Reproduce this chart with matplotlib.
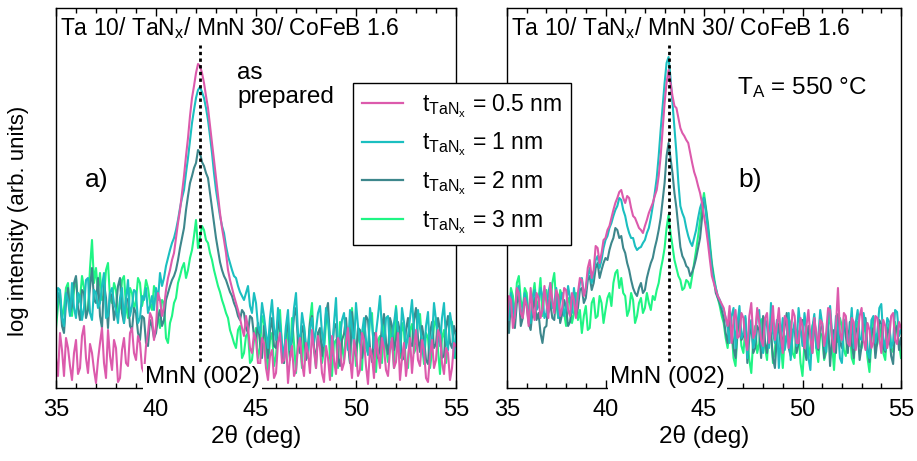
import numpy as np
import matplotlib
matplotlib.use("Agg")
import matplotlib.pyplot as plt
from matplotlib.ticker import MultipleLocator
from matplotlib.lines import Line2D

plt.rcParams["font.family"] = ["Liberation Sans", "DejaVu Sans"]
plt.rcParams["mathtext.fontset"] = "custom"
plt.rcParams["mathtext.rm"] = "Liberation Sans"
plt.rcParams["mathtext.it"] = "Liberation Sans:italic"

# scan angles, 0.1 deg steps (one row below = one degree)
two_theta = np.round(np.linspace(35, 55, 201), 1)

thicknesses = ["0.5", "1", "2", "3"]
colors = ["#dc5aac", "#1bbfc0", "#3d878c", "#1ff584"]

# a) as prepared, log intensity (arb. units)
a_05 = [30, 12, 55, 38, 12, 50, 40, 22, 8, 35,
        48, 14, 20, 52, 62, 30, 15, 44, 35, 18,
        5, 28, 45, 60, 25, 10, 58, 32, 18, 48,
        40, 6, 10, 38, 50, 25, 22, 55, 60, 35,
        28, 52, 45, 20, 15, 42, 55, 75, 70, 48,
        62, 95, 88, 72, 80, 98, 110, 118, 128, 135,
        150, 165, 178, 195, 212, 232, 250, 272, 290, 302,
        315, 324, 322, 315, 305, 292, 280, 262, 245, 228,
        210, 192, 175, 160, 148, 135, 118, 108, 100, 92,
        85, 78, 70, 60, 52, 72, 60, 40, 35, 55,
        48, 25, 22, 50, 45, 20, 8, 32, 38, 10,
        15, 45, 55, 25, 28, 48, 5, 30, 42, 12,
        18, 40, 50, 25, 12, 45, 35, 15, 58, 38,
        20, 52, 40, 15, 6, 42, 30, 8, 52, 28,
        14, 50, 44, 18, 25, 45, 60, 30, 10, 48,
        36, 12, 18, 55, 48, 22, 4, 40, 32, 10,
        55, 35, 20, 50, 40, 18, 12, 38, 50, 20,
        26, 55, 8, 30, 45, 12, 30, 50, 15, 40,
        58, 28, 22, 48, 38, 10, 6, 32, 48, 20,
        28, 58, 52, 25, 14, 40, 35, 8, 20, 45,
        42]
a_1 = [75, 100, 98, 70, 62, 95, 88, 72, 105, 80,
       70, 95, 92, 68, 80, 108, 110, 75, 68, 98,
       95, 80, 85, 102, 115, 70, 72, 95, 100, 85,
       78, 65, 90, 100, 65, 88, 108, 72, 82, 98,
       96, 65, 70, 92, 88, 100, 75, 82, 92, 78,
       100, 88, 115, 102, 110, 122, 130, 138, 145, 150,
       158, 168, 180, 190, 198, 215, 230, 248, 265, 278,
       290, 298, 301, 296, 290, 280, 268, 252, 235, 215,
       198, 185, 172, 162, 155, 142, 132, 125, 118, 112,
       110, 102, 96, 92, 88, 95, 102, 82, 75, 95,
       85, 62, 55, 85, 72, 55, 40, 70, 88, 60,
       48, 80, 65, 45, 30, 62, 78, 38, 52, 80,
       95, 55, 45, 75, 62, 42, 35, 60, 70, 45,
       58, 75, 82, 55, 42, 80, 68, 48, 32, 65,
       90, 40, 50, 68, 75, 52, 38, 78, 60, 42,
       85, 62, 45, 55, 70, 48, 33, 80, 64, 40,
       55, 72, 92, 58, 40, 70, 72, 38, 48, 65,
       80, 55, 36, 80, 66, 40, 52, 70, 88, 58,
       44, 78, 60, 48, 30, 62, 76, 35, 50, 85,
       68, 52, 42, 70, 85, 48, 38, 75, 62, 30,
       55]
a_2 = [70, 95, 90, 62, 55, 85, 100, 75, 82, 105,
       112, 80, 68, 98, 95, 70, 78, 100, 120, 88,
       85, 110, 72, 60, 105, 90, 60, 95, 92, 68,
       80, 102, 110, 75, 65, 90, 88, 62, 58, 80,
       75, 55, 48, 72, 70, 45, 42, 68, 62, 50,
       55, 70, 78, 62, 68, 88, 95, 102, 108, 112,
       118, 128, 140, 150, 160, 178, 192, 205, 212, 220,
       225, 238, 235, 226, 222, 215, 210, 195, 180, 165,
       150, 138, 126, 118, 112, 108, 102, 96, 92, 85,
       80, 72, 68, 78, 75, 60, 55, 72, 70, 52,
       48, 65, 45, 30, 62, 50, 30, 58, 70, 42,
       40, 68, 58, 35, 25, 55, 66, 30, 48, 72,
       80, 45, 35, 62, 55, 28, 42, 65, 72, 40,
       28, 55, 60, 32, 50, 75, 85, 48, 38, 60,
       64, 30, 22, 48, 54, 70, 44, 25, 76, 50,
       32, 60, 58, 30, 46, 72, 68, 40, 26, 55,
       52, 30, 40, 62, 74, 45, 34, 70, 62, 38,
       48, 66, 56, 28, 30, 58, 70, 45, 42, 68,
       80, 50, 36, 62, 50, 28, 24, 55, 66, 40,
       44, 70, 58, 30, 32, 60, 72, 45, 40, 62,
       52]
a_3 = [60, 82, 95, 70, 80, 100, 105, 78, 72, 98,
       110, 85, 88, 112, 100, 75, 78, 120, 148, 105,
       120, 95, 115, 88, 92, 118, 125, 90, 85, 105,
       98, 75, 80, 108, 112, 82, 70, 100, 95, 78,
       88, 110, 105, 82, 92, 108, 100, 85, 78, 102,
       95, 72, 60, 88, 85, 50, 45, 65, 72, 85,
       90, 105, 112, 120, 125, 110, 118, 130, 138, 152,
       168, 140, 150, 162, 158, 148, 145, 135, 128, 118,
       110, 102, 96, 88, 82, 75, 70, 58, 52, 45,
       40, 58, 62, 30, 35, 52, 55, 25, 28, 48,
       60, 30, 40, 72, 65, 35, 18, 48, 55, 22,
       32, 60, 78, 40, 25, 62, 50, 28, 70, 45,
       15, 52, 45, 20, 62, 38, 30, 68, 85, 40,
       20, 55, 58, 25, 38, 65, 72, 30, 12, 45,
       48, 20, 66, 42, 28, 60, 54, 25, 80, 50,
       22, 58, 44, 18, 60, 40, 35, 70, 75, 30,
       16, 48, 52, 25, 68, 40, 26, 62, 46, 20,
       82, 50, 30, 65, 56, 22, 20, 58, 64, 35,
       40, 72, 74, 45, 24, 55, 50, 20, 36, 62,
       70, 38, 14, 50, 58, 25, 42, 68, 66, 40,
       30]

# b) annealed at 550 C
b_05 = [65, 92, 88, 60, 72, 100, 95, 75, 70, 90,
        82, 62, 100, 78, 68, 95, 90, 70, 78, 102,
        85, 70, 105, 88, 75, 98, 92, 72, 80, 100,
        98, 78, 72, 95, 88, 70, 95, 110, 108, 92,
        100, 120, 128, 110, 118, 142, 140, 125, 135, 148,
        150, 158, 162, 170, 178, 185, 190, 196, 198, 190,
        185, 192, 190, 180, 172, 170, 165, 160, 158, 155,
        162, 168, 175, 180, 185, 192, 198, 212, 232, 258,
        285, 305, 318, 305, 292, 282, 280, 270, 260, 255,
        252, 248, 245, 235, 225, 216, 210, 202, 195, 185,
        172, 160, 145, 128, 112, 105, 98, 92, 88, 84,
        80, 70, 62, 82, 45, 68, 78, 50, 52, 75,
        70, 48, 38, 72, 85, 50, 55, 80, 66, 48,
        42, 70, 75, 45, 58, 82, 48, 62, 80, 52,
        35, 72, 68, 40, 52, 78, 72, 45, 45, 70,
        62, 40, 62, 78, 50, 35, 70, 55, 40, 68,
        65, 42, 55, 80, 78, 50, 36, 62, 100, 55,
        48, 75, 72, 45, 42, 70, 66, 38, 54, 72,
        80, 48, 38, 65, 58, 40, 46, 72, 70, 50,
        35, 68, 62, 40, 50, 72, 75, 48, 44, 66,
        60]
b_1 = [80, 68, 95, 82, 70, 98, 102, 75, 78, 95,
       88, 72, 65, 90, 98, 78, 82, 100, 92, 70,
       75, 95, 105, 80, 85, 100, 70, 88, 95, 72,
       80, 102, 90, 75, 100, 82, 88, 105, 110, 95,
       98, 112, 120, 105, 115, 128, 132, 120, 128, 140,
       148, 152, 160, 165, 172, 178, 182, 190, 188, 178,
       172, 162, 155, 150, 150, 142, 138, 140, 141, 145,
       148, 155, 160, 170, 182, 195, 210, 232, 258, 282,
       305, 325, 331, 310, 285, 260, 235, 205, 182, 175,
       170, 160, 152, 146, 142, 150, 158, 170, 180, 186,
       190, 175, 158, 138, 118, 108, 100, 92, 88, 82,
       78, 70, 60, 45, 72, 80, 40, 65, 82, 50,
       55, 72, 30, 58, 68, 40, 48, 75, 78, 45,
       35, 70, 62, 40, 85, 55, 45, 68, 20, 50,
       70, 38, 52, 75, 28, 55, 66, 42, 80, 60,
       42, 75, 58, 30, 18, 60, 74, 40, 50, 78,
       64, 45, 36, 70, 82, 55, 44, 72, 60, 30,
       25, 62, 70, 45, 55, 80, 40, 65, 78, 50,
       48, 75, 62, 35, 30, 68, 72, 45, 56, 80,
       84, 50, 38, 70, 66, 40, 46, 78, 76, 52,
       58]
b_2 = [72, 55, 88, 70, 60, 85, 95, 62, 70, 90,
       82, 65, 58, 78, 90, 68, 75, 55, 45, 60,
       62, 88, 85, 70, 68, 95, 92, 65, 74, 88,
       80, 62, 66, 85, 95, 72, 80, 98, 100, 85,
       90, 108, 112, 98, 105, 120, 125, 110, 118, 125,
       130, 128, 138, 145, 150, 160, 158, 150, 152, 140,
       135, 125, 118, 108, 100, 95, 92, 100, 105, 95,
       98, 110, 118, 125, 130, 140, 148, 158, 170, 188,
       205, 232, 245, 230, 215, 195, 180, 160, 141, 132,
       128, 122, 120, 112, 116, 122, 130, 140, 150, 170,
       190, 178, 160, 140, 122, 108, 95, 90, 85, 78,
       70, 55, 45, 68, 62, 40, 30, 58, 70, 48,
       52, 70, 25, 50, 66, 35, 40, 62, 58, 30,
       72, 45, 35, 60, 55, 30, 20, 52, 64, 40,
       48, 62, 75, 40, 32, 58, 60, 35, 44, 66,
       68, 40, 28, 62, 54, 35, 70, 48, 38, 60,
       62, 30, 46, 65, 22, 50, 58, 35, 74, 45,
       40, 68, 52, 35, 66, 45, 30, 60, 56, 28,
       42, 62, 70, 40, 26, 55, 60, 30, 48, 68,
       64, 40, 36, 60, 55, 32, 24, 58, 62, 38,
       50]
b_3 = [85, 70, 100, 92, 70, 105, 112, 88, 78, 100,
       95, 72, 65, 90, 105, 80, 88, 110, 72, 95,
       98, 75, 80, 105, 115, 85, 70, 98, 92, 75,
       62, 90, 85, 65, 75, 95, 68, 78, 55, 72,
       82, 58, 60, 85, 90, 70, 72, 92, 85, 65,
       78, 90, 95, 82, 105, 115, 118, 100, 110, 95,
       92, 72, 78, 95, 88, 65, 72, 85, 90, 75,
       80, 95, 85, 78, 92, 88, 98, 105, 118, 128,
       140, 160, 173, 155, 142, 128, 120, 112, 108, 98,
       100, 108, 106, 100, 112, 125, 138, 152, 168, 182,
       195, 180, 165, 145, 125, 112, 100, 90, 82, 72,
       65, 50, 40, 62, 58, 30, 22, 55, 66, 42,
       35, 60, 50, 28, 15, 48, 62, 35, 44, 68,
       70, 40, 28, 60, 55, 25, 38, 65, 72, 45,
       20, 52, 48, 70, 64, 35, 30, 58, 56, 25,
       12, 45, 60, 30, 42, 62, 68, 40, 26, 55,
       52, 28, 36, 62, 74, 45, 18, 50, 46, 70,
       62, 38, 32, 55, 58, 30, 24, 60, 66, 42,
       40, 65, 54, 30, 16, 48, 70, 40, 44, 62,
       50, 35, 28, 58, 64, 40, 36, 66, 56, 45,
       30]

layer_stack = r"Ta 10/ TaN$_\mathrm{x}$/ MnN 30/ CoFeB 1.6"
peak_a = 42.2
peak_b = 43.22


def style_axes(ax):
    ax.set_xlim(35, 55)
    ax.set_ylim(0, 380)
    ax.xaxis.set_major_locator(MultipleLocator(5))
    ax.xaxis.set_minor_locator(MultipleLocator(1))
    ax.set_yticks([])
    ax.tick_params(axis="x", which="both", direction="in", top=True, labelsize=17, pad=8)
    ax.tick_params(axis="x", which="major", length=6, width=1)
    ax.tick_params(axis="x", which="minor", length=3.5, width=1)
    for sp in ax.spines.values():
        sp.set_linewidth(1.0)
    ax.set_xlabel("2θ (deg)", fontsize=17.5, labelpad=3)


def draw_panel(ax, series, peak, label_x):
    # thickest layer first so the thin one ends on top
    for vals, col in reversed(list(zip(series, colors))):
        ax.plot(two_theta, vals, color=col, lw=1.5, zorder=2)
    ax.plot([peak, peak], [0, 343], color="black", ls=(0, (1.2, 1.2)), lw=2.0, zorder=3)
    ax.text(35.2, 360, layer_stack, fontsize=16.5, va="center", ha="left")
    ax.text(label_x, 11, "MnN (002)", fontsize=17.5, ha="center", va="center", zorder=4,
            bbox=dict(facecolor="white", edgecolor="none", pad=1.5))
    style_axes(ax)


fig = plt.figure(figsize=(9.17, 4.61), dpi=100)
ax_a = fig.add_axes([56 / 917, 73 / 461, 400 / 917, 380 / 461])
ax_b = fig.add_axes([507 / 917, 73 / 461, 394 / 917, 380 / 461])

draw_panel(ax_a, [a_05, a_1, a_2, a_3], peak_a, 42.33)
draw_panel(ax_b, [b_05, b_1, b_2, b_3], peak_b, 43.15)

ax_a.set_ylabel("log intensity (arb. units)", fontsize=16)
ax_a.yaxis.set_label_coords(-0.068, 0.44)
ax_a.text(37.05, 208, "a)", fontsize=19, ha="center", va="center")
ax_a.text(44.05, 303, "as\nprepared", fontsize=17.5, ha="left", va="center", linespacing=1.1)
ax_b.text(47.33, 208, "b)", fontsize=19, ha="center", va="center")
ax_b.text(46.68, 300, r"T$_\mathrm{A}$ = 550 °C", fontsize=17.5, ha="left", va="center")

handles = [Line2D([], [], color=c, lw=1.6) for c in colors]
labels = [r"t$_{\mathrm{TaN}_\mathrm{x}}$ = " + t + " nm" for t in thicknesses]
leg = fig.legend(handles, labels, loc="upper left", bbox_to_anchor=(353 / 917, 1 - 83 / 461),
                 fontsize=16.5, frameon=True, fancybox=False, framealpha=1, edgecolor="black",
                 handlelength=1.8, handletextpad=0.8, borderpad=0.4, labelspacing=0.48,
                 borderaxespad=0)
leg.get_frame().set_linewidth(1.0)

fig.savefig("out.png", dpi=100)
